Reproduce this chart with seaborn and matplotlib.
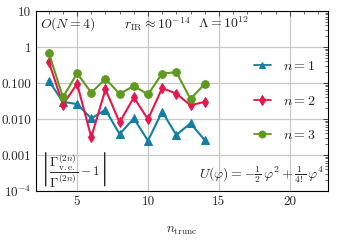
import matplotlib
matplotlib.use("Agg")
import matplotlib.pyplot as plt
import matplotlib.ticker as mticker
import seaborn as sns
import pandas as pd

# truncation orders and relative deviations
n_trunc = [3, 4, 5, 6, 7, 8, 9, 10, 11, 12, 13, 14]
dev_n1 = [0.115, 0.030, 0.026, 0.0104, 0.018, 0.0038, 0.0104, 0.0025, 0.016, 0.0036, 0.0076, 0.0026]
dev_n2 = [0.39, 0.025, 0.095, 0.0031, 0.067, 0.0080, 0.040, 0.0098, 0.072, 0.051, 0.024, 0.030]
dev_n3 = [0.70, 0.040, 0.186, 0.054, 0.13, 0.050, 0.083, 0.048, 0.183, 0.20, 0.036, 0.094]

series_labels = [r"$n=1$", r"$n=2$", r"$n=3$"]
y_ticks = [1e-4, 1e-3, 1e-2, 1e-1, 1, 10]
y_ticklabels = [r"$10^{-4}$", "0.001", "0.010", "0.100", "1", "10"]
x_ticks = [5, 10, 15, 20]

colors = ["#137fa2", "#e6174c", "#5d9a1f"]
markers = ["^", "d", "o"]

df = pd.DataFrame({
    "n_trunc": n_trunc * 3,
    "dev": dev_n1 + dev_n2 + dev_n3,
    "series": sum([[lab] * len(n_trunc) for lab in series_labels], []),
})

sns.set_style("white")
plt.rcParams["font.family"] = ["cmr10", "DejaVu Serif"]
plt.rcParams["mathtext.fontset"] = "cm"
plt.rcParams["axes.formatter.use_mathtext"] = True

fig = plt.figure(figsize=(3.38, 2.45), dpi=100)
ax = fig.add_axes([36 / 338, 1 - 191 / 245, 292 / 338, 180 / 245])

for lab, col, mk in zip(series_labels, colors, markers):
    sub = df[df["series"] == lab]
    sns.lineplot(data=sub, x="n_trunc", y="dev", ax=ax, color=col, marker=mk,
                 markersize=5.5, markeredgecolor=col, linewidth=1.5, label=lab)

ax.set_yscale("log")
ax.set_ylim(1e-4, 10)
ax.set_xlim(2.1, 22.7)
ax.set_yticks(y_ticks)
ax.set_yticklabels(y_ticklabels)
ax.set_xticks(x_ticks)
ax.set_xticklabels([str(t) for t in x_ticks])
ax.xaxis.set_minor_locator(mticker.MultipleLocator(1))
ax.yaxis.set_minor_locator(mticker.LogLocator(base=10, subs=range(2, 10), numticks=20))
ax.yaxis.set_minor_formatter(mticker.NullFormatter())
ax.tick_params(which="both", direction="in", top=True, right=True, labelsize=9.5)
ax.tick_params(which="major", length=3.5, width=0.6)
ax.tick_params(which="minor", length=2, width=0.5)
ax.grid(True, which="major", color="#c8c8c8", linewidth=0.9)
for s in ax.spines.values():
    s.set_linewidth(0.8)
    s.set_color("black")

ax.set_xlabel(r"$n_{\mathrm{trunc}}$", fontsize=9.5, labelpad=12)
ax.set_ylabel("")

leg = ax.legend(loc="center right", bbox_to_anchor=(1.0, 0.5), frameon=False,
                fontsize=10, handlelength=1.2, labelspacing=1.55, handletextpad=0.9,
                markerscale=0.9)
for h in leg.get_lines():
    h.set_linewidth(1.3)

ax.text(0.015, 0.975, r"$O(N=4)$", transform=ax.transAxes, fontsize=10, va="top", ha="left")
ax.text(0.3, 0.975, r"$r_{\mathrm{IR}}\approx 10^{-14}$", transform=ax.transAxes, fontsize=10, va="top", ha="left")
ax.text(0.555, 0.975, r"$\Lambda=10^{12}$", transform=ax.transAxes, fontsize=10, va="top", ha="left")
ax.text(0.012, 0.01, r"$\left|\dfrac{\Gamma^{(2n)}_{\mathrm{v.e.}}}{\Gamma^{(2n)}}-1\right|$",
        transform=ax.transAxes, fontsize=9.5, va="bottom", ha="left")
ax.text(0.988, 0.035, r"$U(\varphi)=-\frac{1}{2}\,\varphi^2+\frac{1}{4!}\,\varphi^4$",
        transform=ax.transAxes, fontsize=10, va="bottom", ha="right")

fig.savefig("out.png", dpi=100)
